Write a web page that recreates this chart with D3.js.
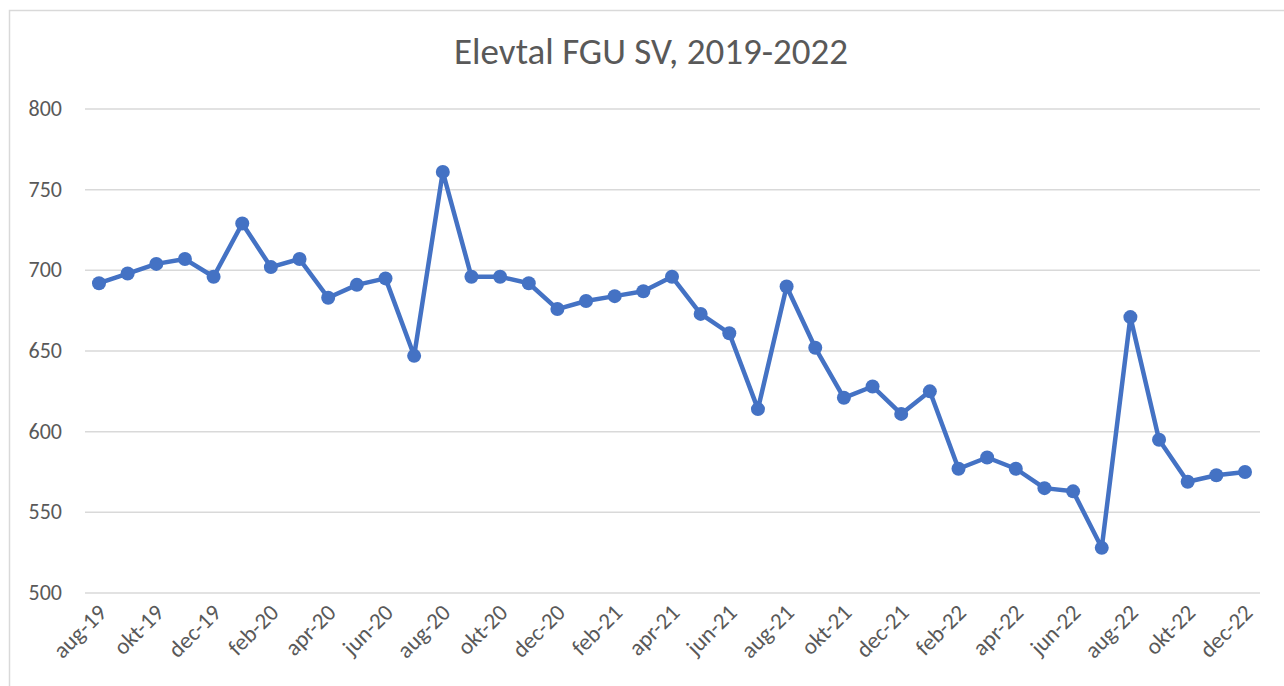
<!DOCTYPE html>
<html>
<head>
<meta charset="utf-8">
<script src="https://cdn.jsdelivr.net/npm/d3@7"></script>
<style>
  body { margin: 0; background: #fff; }
  svg { font-family: Carlito, "Open Sans", sans-serif; }
</style>
</head>
<body>
<svg id="chart"></svg>
<script>
const months = ['aug-19','sep-19','okt-19','nov-19','dec-19',
  'jan-20','feb-20','mar-20','apr-20','maj-20','jun-20','jul-20','aug-20','sep-20','okt-20','nov-20','dec-20',
  'jan-21','feb-21','mar-21','apr-21','maj-21','jun-21','jul-21','aug-21','sep-21','okt-21','nov-21','dec-21',
  'jan-22','feb-22','mar-22','apr-22','maj-22','jun-22','jul-22','aug-22','sep-22','okt-22','nov-22','dec-22'];

const students = [692, 698, 704, 707, 696,
  729, 702, 707, 683, 691, 695, 647, 761, 696, 696, 692, 676,
  681, 684, 687, 696, 673, 661, 614, 690, 652, 621, 628, 611,
  625, 577, 584, 577, 565, 563, 528, 671, 595, 569, 573, 575];

const yTicks = [500, 550, 600, 650, 700, 750, 800];

const W = 1284, H = 686;
const svg = d3.select('#chart').attr('width', W).attr('height', H);

// outer frame
svg.append('rect')
  .attr('x', 9.5).attr('y', 10.5)
  .attr('width', W).attr('height', H)
  .attr('fill', 'none')
  .attr('stroke', '#d9d9d9')
  .attr('stroke-width', 1.5);

svg.append('text')
  .attr('x', 651).attr('y', 64)
  .attr('text-anchor', 'middle')
  .attr('fill', '#595959')
  .style('font-size', '37px')
  .text('Elevtal FGU SV, 2019-2022');

const x = d3.scalePoint()
  .domain(months)
  .range([99, 1245]);

const y = d3.scaleLinear()
  .domain([500, 800])
  .range([593, 109]);

// gridlines
svg.append('g')
  .selectAll('line')
  .data(yTicks)
  .enter()
  .append('line')
  .attr('x1', 85).attr('x2', 1260)
  .attr('y1', d => y(d)).attr('y2', d => y(d))
  .attr('stroke', '#d9d9d9')
  .attr('stroke-width', 1.5);

// y labels
svg.append('g')
  .selectAll('text')
  .data(yTicks)
  .enter()
  .append('text')
  .attr('x', 62)
  .attr('y', d => y(d) + 7)
  .attr('text-anchor', 'end')
  .attr('fill', '#595959')
  .style('font-size', '22px')
  .text(d => d);

// x labels, every other month
svg.append('g')
  .selectAll('text')
  .data(months.filter((d, i) => i % 2 === 0))
  .enter()
  .append('text')
  .attr('transform', d => `translate(${x(d) + 9}, 614) rotate(-45)`)
  .attr('text-anchor', 'end')
  .attr('fill', '#595959')
  .style('font-size', '23px')
  .text(d => d);

const line = d3.line()
  .x((d, i) => x(months[i]))
  .y(d => y(d));

svg.append('path')
  .datum(students)
  .attr('d', line)
  .attr('fill', 'none')
  .attr('stroke', '#4472c4')
  .attr('stroke-width', 4.5)
  .attr('stroke-linejoin', 'round');

svg.append('g')
  .selectAll('circle')
  .data(students)
  .enter()
  .append('circle')
  .attr('cx', (d, i) => x(months[i]))
  .attr('cy', d => y(d))
  .attr('r', 7)
  .attr('fill', '#4472c4');
</script>
</body>
</html>
